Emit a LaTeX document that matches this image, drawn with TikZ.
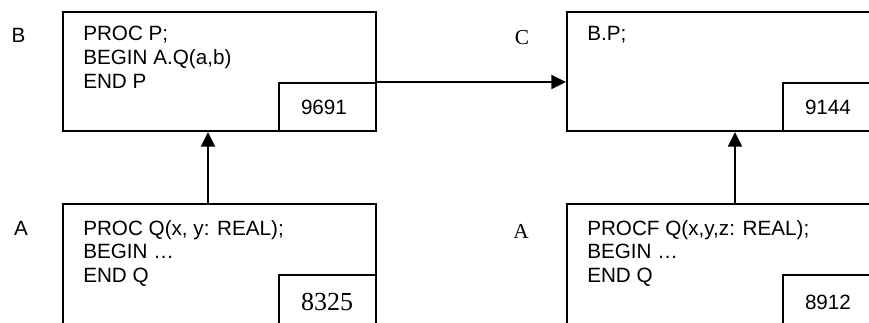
\documentclass[tikz,border=0pt]{standalone}
\usepackage{fontspec}
\setmainfont{Liberation Serif}
\setsansfont{Liberation Sans}
\usetikzlibrary{arrows.meta}

\tikzset{
  unitbox/.style={draw, line width=1.5pt, minimum width=234.75pt,
                  minimum height=89.25pt, inner sep=0pt, anchor=north west},
  numbox/.style={draw, line width=1.5pt, minimum height=36pt,
                 text width=39.75pt, inner xsep=16.5pt, inner ysep=0pt,
                 align=left, anchor=south east,
                 font=\sffamily\fontsize{15.5}{18}\selectfont},
  code/.style={font=\sffamily\fontsize{15.5}{17.75}\selectfont,
               align=left, inner sep=0pt, anchor=north west},
  sflabel/.style={font=\sffamily\fontsize{15.5}{18}\selectfont, inner sep=0pt},
  rmlabel/.style={font=\rmfamily\fontsize{16}{19}\selectfont, inner sep=0pt},
  link/.style={line width=1.5pt, -{Triangle[length=11pt, width=10.5pt]}}
}

\begin{document}
\begin{tikzpicture}[x=0.75pt, y=-0.75pt]

\useasboundingbox (0,0) rectangle (869,322);
\clip (0,0) rectangle (869,322);

% upper row
\node[unitbox] (boxB) at (62,11) {};
\node[numbox] (numB) at (boxB.south east) {9691};
\node[code] (codeB) at (83,26) {PROC P;\\BEGIN A.Q(a,b)\\END P};
\node[sflabel] (labB) at (18.5,35.5) {B};

\node[unitbox] (boxC) at (566,11) {};
\node[numbox] (numC) at (boxC.south east) {9144};
\node[code] (codeC) at (587,26) {B.P;};
\node[rmlabel] (labC) at (522,38) {C};

% lower row
\node[unitbox, minimum height=94pt] (boxA) at (62,203) {};
\node[numbox, minimum height=40.5pt, font=\rmfamily\fontsize{19.5}{22}\selectfont]
  (numA) at (boxA.south east) {8325};
\node[code] (codeA) at (83,220) {PROC Q(x, y: REAL);\\BEGIN …\\END Q};
\node[sflabel] (labA) at (21,228) {A};

\node[unitbox, minimum height=94pt] (boxAF) at (566,203) {};
\node[numbox, minimum height=40.5pt] (numAF) at (boxAF.south east) {8912};
\node[code] (codeAF) at (587,220) {PROCF Q(x,y,z: REAL);\\BEGIN …\\END Q};
\node[rmlabel] (labAF) at (521,231) {A};

% links
\draw[link] (numB.north east) -- (numB.north east -| boxC.west);
\draw[link] ([xshift=-8.6pt]boxA.north) -- ([xshift=-8.6pt]boxB.south);
\draw[link] ([xshift=8.6pt]boxAF.north) -- ([xshift=8.6pt]boxC.south);

\end{tikzpicture}
\end{document}
